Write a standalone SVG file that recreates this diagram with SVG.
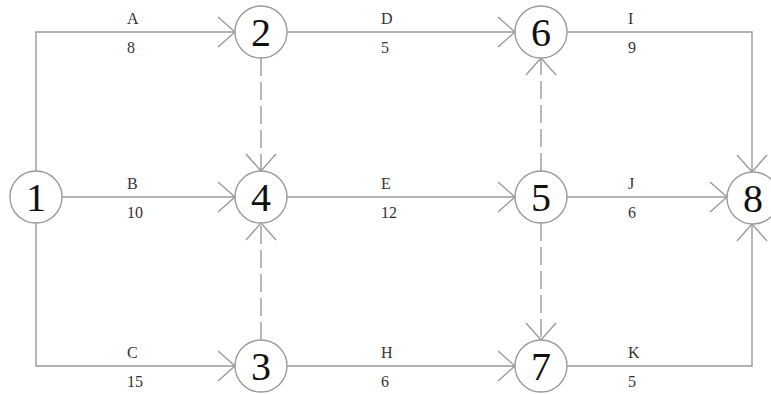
<svg xmlns="http://www.w3.org/2000/svg" width="771" height="394" viewBox="0 0 771 394">
<style>
.edge{fill:none;stroke:#9a9a9a;stroke-width:1.4}
.dash{stroke-dasharray:18 6}
.node circle{fill:#fff;stroke:#9a9a9a;stroke-width:1.4}
.node text{font-family:"Liberation Serif","DejaVu Serif",serif;font-size:40px;fill:#111;text-anchor:middle}
.lbl{font-family:"Liberation Serif","DejaVu Serif",serif;font-size:16px;fill:#333}
</style>
<defs>
<marker id="arr" markerUnits="userSpaceOnUse" markerWidth="40" markerHeight="40" refX="20" refY="20" orient="auto" viewBox="0 0 40 40">
<path d="M3 5 L20 20 L3 35" fill="none" stroke="#9a9a9a" stroke-width="1.4"/>
</marker>
</defs>
<rect width="771" height="394" fill="#fff"/>
<g id="connectors">
<path class="edge" d="M36 171 V32 H235" marker-end="url(#arr)"/>
<path class="edge" d="M62 197 H235" marker-end="url(#arr)"/>
<path class="edge" d="M36 223 V366 H235" marker-end="url(#arr)"/>
<path class="edge" d="M287 32 H515" marker-end="url(#arr)"/>
<path class="edge dash" d="M261 58 V171" marker-end="url(#arr)"/>
<path class="edge dash" d="M261 340 V223" marker-end="url(#arr)"/>
<path class="edge" d="M287 197 H515" marker-end="url(#arr)"/>
<path class="edge" d="M287 366 H515" marker-end="url(#arr)"/>
<path class="edge dash" d="M541 171 V58" marker-end="url(#arr)"/>
<path class="edge dash" d="M541 223 V340" marker-end="url(#arr)"/>
<path class="edge" d="M567 32 H752 V172" marker-end="url(#arr)"/>
<path class="edge" d="M567 197 H727" marker-end="url(#arr)"/>
<path class="edge" d="M567 366 H752 V224" marker-end="url(#arr)"/>
</g>
<g id="labels">
<text class="lbl" x="127" y="24">A</text><text class="lbl" x="127" y="53">8</text>
<text class="lbl" x="127" y="189">B</text><text class="lbl" x="127" y="218">10</text>
<text class="lbl" x="127" y="358">C</text><text class="lbl" x="127" y="387">15</text>
<text class="lbl" x="381" y="24">D</text><text class="lbl" x="381" y="53">5</text>
<text class="lbl" x="381" y="189">E</text><text class="lbl" x="381" y="218">12</text>
<text class="lbl" x="381" y="358">H</text><text class="lbl" x="381" y="387">6</text>
<text class="lbl" x="628" y="24">I</text><text class="lbl" x="628" y="53">9</text>
<text class="lbl" x="628" y="189">J</text><text class="lbl" x="628" y="218">6</text>
<text class="lbl" x="628" y="358">K</text><text class="lbl" x="628" y="387">5</text>
</g>
<g id="n1" class="node"><circle cx="36" cy="197" r="26"/><text x="36" y="211">1</text></g>
<g id="n2" class="node"><circle cx="261" cy="32" r="26"/><text x="261" y="46">2</text></g>
<g id="n3" class="node"><circle cx="261" cy="366" r="26"/><text x="261" y="380">3</text></g>
<g id="n4" class="node"><circle cx="261" cy="197" r="26"/><text x="261" y="211">4</text></g>
<g id="n5" class="node"><circle cx="541" cy="197" r="26"/><text x="541" y="211">5</text></g>
<g id="n6" class="node"><circle cx="541" cy="32" r="26"/><text x="541" y="46">6</text></g>
<g id="n7" class="node"><circle cx="541" cy="366" r="26"/><text x="541" y="380">7</text></g>
<g id="n8" class="node"><circle cx="753" cy="198" r="26"/><text x="753" y="212">8</text></g>
</svg>
